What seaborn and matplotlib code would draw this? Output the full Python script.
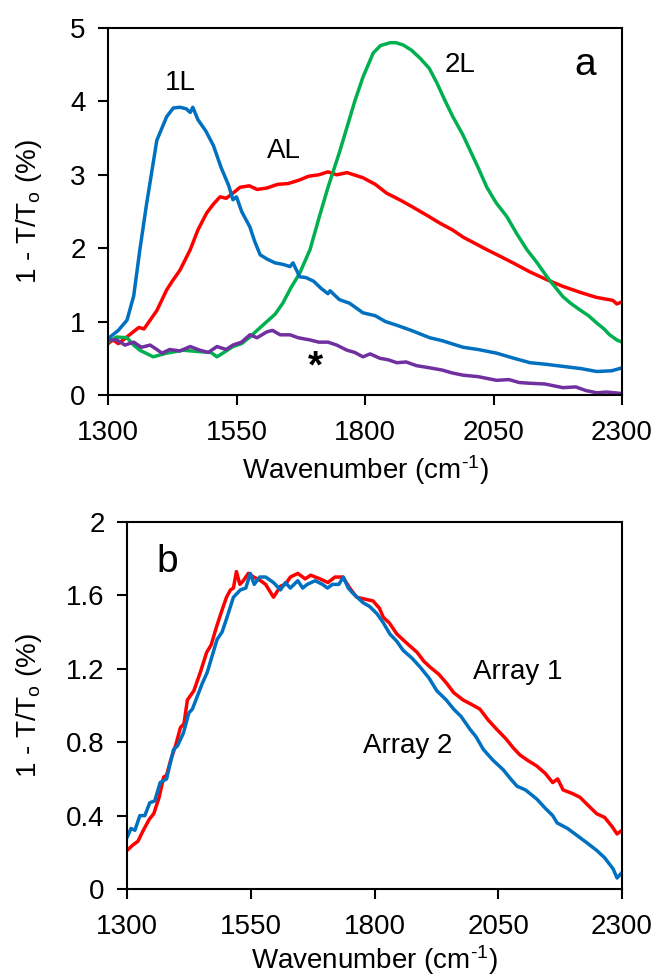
import matplotlib
matplotlib.use("Agg")
import matplotlib.pyplot as plt
import seaborn as sns
import pandas as pd

# ---------------- data ----------------
# Panel a
wn_1L = [1300, 1304, 1320, 1337, 1350, 1362, 1375, 1395, 1414, 1427, 1440, 1452, 1460, 1465, 1475, 1490,
         1505, 1520, 1535, 1543, 1550, 1560, 1576, 1585, 1596, 1610, 1625, 1640, 1654, 1660, 1673, 1685,
         1700, 1715, 1728, 1732, 1750, 1770, 1796, 1820, 1840, 1862, 1890, 1926, 1950, 1991, 2020, 2056,
         2090, 2121, 2150, 2185, 2220, 2251, 2280, 2300]
val_1L = [0.75, 0.79, 0.88, 1.02, 1.35, 1.98, 2.60, 3.47, 3.79, 3.91, 3.92, 3.90, 3.85, 3.92, 3.75, 3.60,
          3.40, 3.10, 2.85, 2.66, 2.70, 2.50, 2.29, 2.10, 1.91, 1.85, 1.80, 1.78, 1.75, 1.80, 1.61, 1.60,
          1.55, 1.45, 1.38, 1.42, 1.30, 1.25, 1.12, 1.08, 1.00, 0.95, 0.88, 0.78, 0.74, 0.65, 0.62, 0.57,
          0.50, 0.44, 0.42, 0.39, 0.36, 0.32, 0.33, 0.37]

wn_AL = [1300, 1310, 1320, 1335, 1349, 1360, 1370, 1382, 1395, 1414, 1425, 1440, 1460, 1475, 1492, 1505,
         1518, 1530, 1543, 1557, 1575, 1590, 1609, 1630, 1650, 1673, 1690, 1710, 1728, 1745, 1765, 1796,
         1820, 1842, 1870, 1893, 1920, 1946, 1970, 1991, 2010, 2037, 2060, 2088, 2120, 2154, 2185, 2218,
         2250, 2282, 2290, 2300]
val_AL = [0.70, 0.75, 0.70, 0.78, 0.86, 0.92, 0.90, 1.02, 1.15, 1.43, 1.55, 1.70, 1.98, 2.25, 2.48, 2.60,
          2.70, 2.68, 2.75, 2.83, 2.85, 2.80, 2.82, 2.87, 2.88, 2.93, 2.98, 3.00, 3.04, 3.00, 3.03, 2.96,
          2.87, 2.75, 2.65, 2.56, 2.45, 2.34, 2.25, 2.15, 2.08, 1.98, 1.90, 1.80, 1.68, 1.57, 1.48, 1.40,
          1.33, 1.29, 1.24, 1.27]

wn_2L = [1300, 1317, 1337, 1350, 1362, 1388, 1414, 1446, 1479, 1500, 1512, 1530, 1543, 1560, 1576, 1590,
         1609, 1625, 1640, 1655, 1673, 1693, 1710, 1728, 1750, 1765, 1780, 1796, 1816, 1830, 1849, 1860,
         1874, 1890, 1907, 1925, 1940, 1955, 1971, 1990, 2004, 2020, 2037, 2055, 2076, 2095, 2115, 2135,
         2154, 2170, 2185, 2200, 2218, 2235, 2251, 2265, 2276, 2290, 2300]
val_2L = [0.72, 0.79, 0.78, 0.68, 0.61, 0.52, 0.57, 0.61, 0.59, 0.58, 0.52, 0.60, 0.66, 0.70, 0.79, 0.88,
          1.00, 1.10, 1.25, 1.45, 1.66, 1.98, 2.40, 2.83, 3.30, 3.65, 4.00, 4.33, 4.66, 4.76, 4.80, 4.80,
          4.77, 4.70, 4.59, 4.45, 4.25, 4.02, 3.79, 3.55, 3.34, 3.10, 2.83, 2.62, 2.43, 2.20, 1.98, 1.80,
          1.61, 1.47, 1.34, 1.25, 1.16, 1.08, 0.98, 0.90, 0.82, 0.75, 0.72]

wn_ref = [1300, 1317, 1333, 1350, 1365, 1382, 1395, 1405, 1420, 1440, 1460, 1479, 1495, 1512, 1530, 1543,
          1560, 1576, 1590, 1609, 1620, 1635, 1654, 1670, 1693, 1710, 1728, 1745, 1765, 1780, 1796, 1810,
          1829, 1845, 1862, 1880, 1900, 1926, 1950, 1970, 1991, 2020, 2056, 2080, 2100, 2121, 2150, 2185,
          2210, 2230, 2251, 2270, 2300]
val_ref = [0.75, 0.75, 0.68, 0.72, 0.65, 0.68, 0.62, 0.57, 0.62, 0.60, 0.66, 0.61, 0.58, 0.66, 0.62, 0.68,
           0.72, 0.82, 0.78, 0.86, 0.88, 0.82, 0.82, 0.78, 0.75, 0.72, 0.72, 0.68, 0.61, 0.58, 0.52, 0.56,
           0.50, 0.48, 0.44, 0.45, 0.40, 0.37, 0.34, 0.30, 0.27, 0.25, 0.20, 0.21, 0.17, 0.16, 0.15, 0.10,
           0.11, 0.06, 0.03, 0.04, 0.02]

# Panel b
wn_arr1 = [1300, 1312, 1322, 1333, 1345, 1354, 1365, 1374, 1380, 1388, 1398, 1408, 1415, 1422, 1435, 1448,
           1461, 1470, 1481, 1492, 1501, 1509, 1515, 1521, 1528, 1535, 1545, 1556, 1570, 1580, 1596, 1610,
           1620, 1630, 1645, 1660, 1671, 1690, 1706, 1720, 1736, 1750, 1764, 1780, 1797, 1810, 1818, 1830,
           1845, 1865, 1886, 1900, 1912, 1930, 1946, 1960, 1979, 2000, 2013, 2030, 2047, 2065, 2080, 2094,
           2110, 2128, 2145, 2160, 2170, 2181, 2200, 2215, 2230, 2249, 2265, 2280, 2290, 2300]
val_arr1 = [0.21, 0.24, 0.26, 0.32, 0.38, 0.41, 0.50, 0.61, 0.62, 0.70, 0.78, 0.88, 0.90, 1.03, 1.08, 1.18,
            1.29, 1.33, 1.43, 1.52, 1.59, 1.63, 1.64, 1.73, 1.66, 1.68, 1.72, 1.70, 1.68, 1.66, 1.59, 1.65,
            1.66, 1.70, 1.72, 1.69, 1.71, 1.69, 1.67, 1.70, 1.70, 1.64, 1.59, 1.58, 1.57, 1.53, 1.48, 1.45,
            1.39, 1.34, 1.29, 1.24, 1.21, 1.17, 1.12, 1.07, 1.03, 1.00, 0.98, 0.92, 0.87, 0.82, 0.77, 0.73,
            0.70, 0.67, 0.63, 0.58, 0.60, 0.54, 0.52, 0.50, 0.46, 0.41, 0.39, 0.34, 0.30, 0.32]

wn_arr2 = [1300, 1308, 1316, 1326, 1336, 1346, 1356, 1367, 1380, 1386, 1394, 1402, 1414, 1425, 1432, 1442,
           1452, 1462, 1472, 1482, 1492, 1502, 1515, 1529, 1540, 1549, 1557, 1568, 1580, 1596, 1610, 1620,
           1630, 1645, 1655, 1664, 1680, 1695, 1705, 1715, 1728, 1737, 1747, 1757, 1777, 1790, 1805, 1818,
           1831, 1845, 1858, 1875, 1892, 1910, 1926, 1945, 1960, 1975, 1993, 2005, 2020, 2040, 2060, 2075,
           2088, 2105, 2128, 2145, 2160, 2169, 2190, 2200, 2215, 2230, 2249, 2265, 2282, 2290, 2300]
val_arr2 = [0.28, 0.33, 0.32, 0.40, 0.40, 0.47, 0.48, 0.58, 0.60, 0.67, 0.76, 0.78, 0.85, 0.96, 0.98, 1.05,
            1.12, 1.18, 1.27, 1.36, 1.40, 1.48, 1.59, 1.63, 1.64, 1.72, 1.66, 1.70, 1.70, 1.67, 1.63, 1.67,
            1.64, 1.68, 1.64, 1.66, 1.68, 1.66, 1.64, 1.66, 1.66, 1.70, 1.64, 1.61, 1.56, 1.54, 1.50, 1.45,
            1.39, 1.35, 1.30, 1.26, 1.21, 1.15, 1.08, 1.03, 0.98, 0.94, 0.87, 0.83, 0.76, 0.70, 0.65, 0.60,
            0.56, 0.54, 0.49, 0.44, 0.40, 0.36, 0.33, 0.31, 0.28, 0.25, 0.21, 0.17, 0.11, 0.06, 0.09]

xticks = [1300, 1550, 1800, 2050, 2300]
yticks_a = [0, 1, 2, 3, 4, 5]
yticks_b = [0, 0.4, 0.8, 1.2, 1.6, 2]
yticklabels_b = ["0", "0.4", "0.8", "1.2", "1.6", "2"]

BLUE, RED, GREEN, PURPLE = "#0070C0", "#FF0000", "#00B050", "#7030A0"

# ---------------- style ----------------
sns.set_theme(style="ticks")
plt.rcParams["font.family"] = ["Liberation Sans", "DejaVu Sans"]
plt.rcParams["mathtext.fontset"] = "custom"
plt.rcParams["mathtext.rm"] = "Liberation Sans"
plt.rcParams["mathtext.it"] = "Liberation Sans:italic"
plt.rcParams["mathtext.bf"] = "Liberation Sans:bold"
plt.rcParams["text.color"] = "black"
plt.rcParams["axes.labelcolor"] = "black"

FS = 20
LW = 2.5

fig = plt.figure(figsize=(6.59, 9.77), dpi=100)
ax_a = fig.add_axes([108 / 659, 1 - 395 / 977, 514 / 659, 367 / 977])
ax_b = fig.add_axes([127 / 659, 1 - 889 / 977, 495 / 659, 367 / 977])


def draw(ax, wn, val, color):
    df = pd.DataFrame({"wn": wn, "val": val})
    sns.lineplot(data=df, x="wn", y="val", ax=ax, color=color, linewidth=LW,
                 estimator=None, sort=False)


draw(ax_a, wn_AL, val_AL, RED)
draw(ax_a, wn_2L, val_2L, GREEN)
draw(ax_a, wn_ref, val_ref, PURPLE)
draw(ax_a, wn_1L, val_1L, BLUE)

draw(ax_b, wn_arr1, val_arr1, RED)
draw(ax_b, wn_arr2, val_arr2, BLUE)

ylabel = "1 - T/T$_\\mathrm{o}$ (%)"
xlabel = "Wavenumber (cm$^{\\text{-1}}$)"

for ax, yt, ytl, ylim, lx, lp in [(ax_a, yticks_a, [str(v) for v in yticks_a], (0, 5), (29 - 108) / 514, 5),
                                   (ax_b, yticks_b, yticklabels_b, (0, 2), (29 - 127) / 495, 2)]:
    ax.set_xlim(1300, 2300)
    ax.set_ylim(*ylim)
    ax.set_xticks(xticks)
    ax.set_xticklabels([str(v) for v in xticks])
    ax.set_yticks(yt)
    ax.set_yticklabels(ytl)
    ax.tick_params(axis="both", direction="out", length=7, width=1.5, labelsize=FS,
                   colors="black", top=False, right=False)
    ax.tick_params(axis="x", pad=11)
    ax.tick_params(axis="y", pad=9)
    for s in ax.spines.values():
        s.set_linewidth(1.5)
        s.set_color("black")
        s.set_visible(True)
    ax.set_xlabel(xlabel, fontsize=FS, labelpad=lp, color="black")
    ax.set_ylabel(ylabel, fontsize=FS, color="black", ha="center", va="center")
    ax.yaxis.set_label_coords(lx, 0.5)
    ax.set_facecolor("white")
    ax.grid(False)

# annotations panel a
ax_a.text(1440, 4.25, "1L", fontsize=FS, ha="center", va="center")
ax_a.text(1643, 3.33, "AL", fontsize=FS, ha="center", va="center")
ax_a.text(1985, 4.5, "2L", fontsize=FS, ha="center", va="center")
ax_a.text(2228, 4.5, "a", fontsize=28, ha="center", va="center")
ax_a.text(1703, 0.38, "*", fontsize=28, fontweight="bold", ha="center", va="center")

# annotations panel b
ax_b.text(2090, 1.18, "Array 1", fontsize=FS, ha="center", va="center")
ax_b.text(1868, 0.78, "Array 2", fontsize=FS, ha="center", va="center")
ax_b.text(1381, 1.78, "b", fontsize=28, ha="center", va="center")

fig.savefig("out.png", dpi=100, facecolor="white")
